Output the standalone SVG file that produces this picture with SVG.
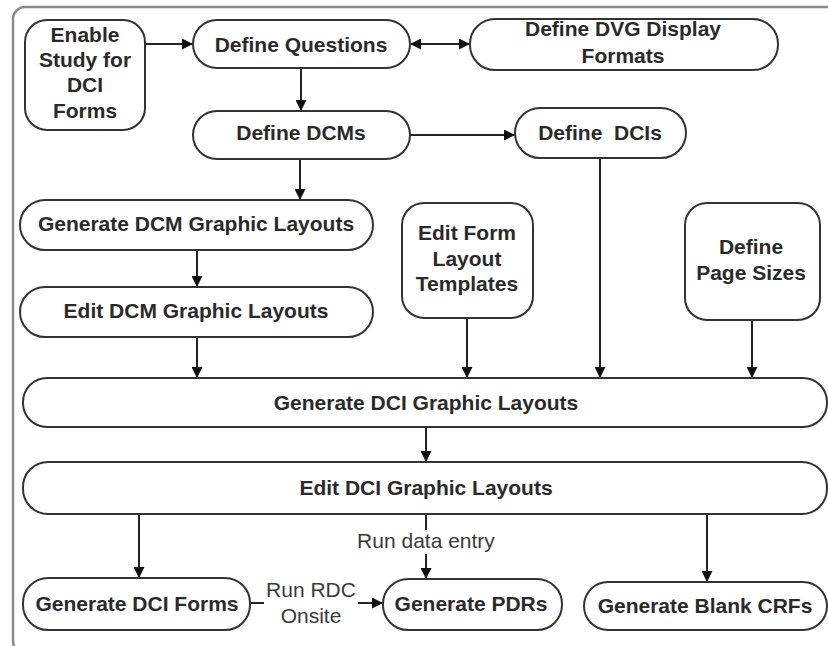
<svg xmlns="http://www.w3.org/2000/svg" width="828" height="646" viewBox="0 0 828 646">
<style>
.node rect{fill:#fff;stroke:#333;stroke-width:2}
.node text{font-family:"Liberation Sans",Arial,sans-serif;font-weight:bold;font-size:21px;fill:#2a2a2a;text-anchor:middle}
.conn line{stroke:#222;stroke-width:2;fill:none}
.lbl{font-family:"Liberation Sans",Arial,sans-serif;font-size:21px;fill:#3a3a3a;text-anchor:middle}
.bg{fill:#fff;stroke:none}
</style>
<defs>
<marker id="ah" viewBox="0 0 10 10" refX="10" refY="5" markerWidth="11" markerHeight="11" markerUnits="userSpaceOnUse" orient="auto-start-reverse">
<path d="M0,0 L10,5 L0,10 z" fill="#111"/>
</marker>
</defs>
<rect x="0" y="0" width="828" height="646" fill="#fff"/>
<rect id="frame" x="13" y="7" width="830" height="646" rx="12" fill="none" stroke="#8a8a8a" stroke-width="2.5"/>

<g class="conn" id="connectors">
<line x1="145" y1="44" x2="193" y2="44" marker-end="url(#ah)"/>
<line x1="410" y1="44" x2="470" y2="44" marker-start="url(#ah)" marker-end="url(#ah)"/>
<line x1="301" y1="68" x2="301" y2="111" marker-end="url(#ah)"/>
<line x1="410" y1="135" x2="515" y2="135" marker-end="url(#ah)"/>
<line x1="300" y1="159" x2="300" y2="200" marker-end="url(#ah)"/>
<line x1="197" y1="250" x2="197" y2="287" marker-end="url(#ah)"/>
<line x1="197" y1="337" x2="197" y2="378" marker-end="url(#ah)"/>
<line x1="600" y1="158" x2="600" y2="378" marker-end="url(#ah)"/>
<line x1="467" y1="318" x2="467" y2="378" marker-end="url(#ah)"/>
<line x1="752" y1="320" x2="752" y2="378" marker-end="url(#ah)"/>
<line x1="426" y1="427" x2="426" y2="462" marker-end="url(#ah)"/>
<line x1="139" y1="514" x2="139" y2="578" marker-end="url(#ah)"/>
<line x1="426" y1="514" x2="426" y2="579" marker-end="url(#ah)"/>
<line x1="707" y1="514" x2="707" y2="582" marker-end="url(#ah)"/>
<line x1="250" y1="603" x2="383" y2="603" marker-end="url(#ah)"/>
<rect class="bg" x="356" y="530" width="140" height="24"/>
<text class="lbl" x="426" y="548">Run data entry</text>
<rect class="bg" x="264" y="580" width="94" height="48"/>
<text class="lbl" x="311" y="597">Run RDC</text>
<text class="lbl" x="311" y="623">Onsite</text>
</g>

<g class="node" id="enable-study">
<rect x="25" y="20" width="120" height="110" rx="22"/>
<text x="85" y="42">Enable</text>
<text x="85" y="67">Study for</text>
<text x="85" y="92">DCI</text>
<text x="85" y="118">Forms</text>
</g>
<g class="node" id="define-questions">
<rect x="193" y="20" width="217" height="48" rx="24"/>
<text x="301" y="52">Define Questions</text>
</g>
<g class="node" id="define-dvg">
<rect x="470" y="19" width="308" height="51" rx="25"/>
<text x="623" y="36">Define DVG Display</text>
<text x="623" y="63">Formats</text>
</g>
<g class="node" id="define-dcms">
<rect x="193" y="111" width="217" height="48" rx="24"/>
<text x="301" y="140">Define DCMs</text>
</g>
<g class="node" id="define-dcis">
<rect x="515" y="108" width="171" height="50" rx="25"/>
<text x="600" y="140" xml:space="preserve">Define  DCIs</text>
</g>
<g class="node" id="gen-dcm-layouts">
<rect x="20" y="200" width="353" height="50" rx="25"/>
<text x="196" y="231">Generate DCM Graphic Layouts</text>
</g>
<g class="node" id="edit-dcm-layouts">
<rect x="20" y="287" width="353" height="50" rx="25"/>
<text x="196" y="318">Edit DCM Graphic Layouts</text>
</g>
<g class="node" id="edit-form-templates">
<rect x="402" y="203" width="131" height="115" rx="22"/>
<text x="467" y="240">Edit Form</text>
<text x="467" y="266">Layout</text>
<text x="467" y="291">Templates</text>
</g>
<g class="node" id="define-page-sizes">
<rect x="685" y="203" width="135" height="117" rx="22"/>
<text x="751" y="254">Define</text>
<text x="751" y="280">Page Sizes</text>
</g>
<g class="node" id="gen-dci-layouts">
<rect x="23" y="378" width="804" height="49" rx="24"/>
<text x="426" y="410">Generate DCI Graphic Layouts</text>
</g>
<g class="node" id="edit-dci-layouts">
<rect x="23" y="462" width="804" height="52" rx="25"/>
<text x="426" y="495">Edit DCI Graphic Layouts</text>
</g>
<g class="node" id="gen-dci-forms">
<rect x="23" y="578" width="227" height="52" rx="25"/>
<text x="137" y="611">Generate DCI Forms</text>
</g>
<g class="node" id="gen-pdrs">
<rect x="383" y="579" width="179" height="51" rx="25"/>
<text x="471" y="611">Generate PDRs</text>
</g>
<g class="node" id="gen-blank-crfs">
<rect x="584" y="582" width="243" height="48" rx="24"/>
<text x="705" y="613">Generate Blank CRFs</text>
</g>
</svg>
